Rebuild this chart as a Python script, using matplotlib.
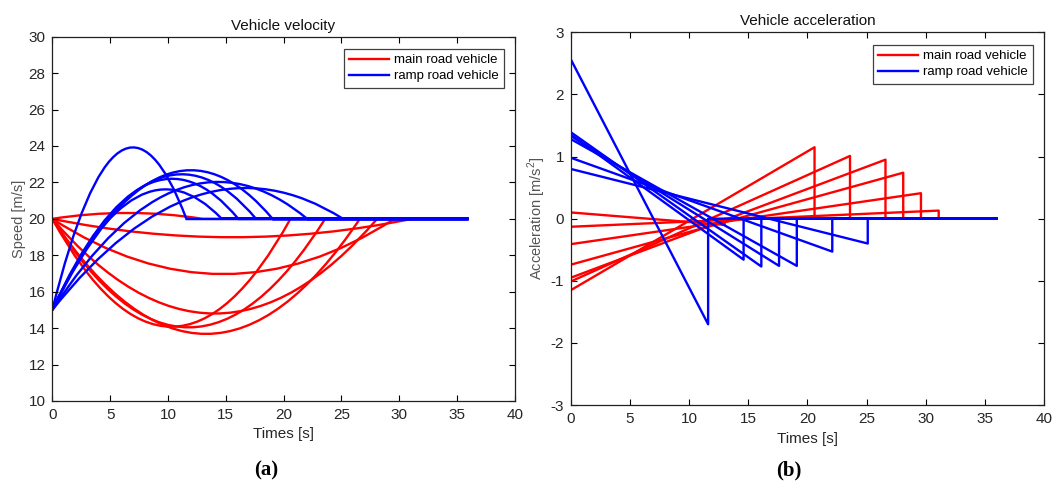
import matplotlib
matplotlib.use("Agg")
import matplotlib.pyplot as plt
from matplotlib.path import Path
from matplotlib.patches import PathPatch
from matplotlib.lines import Line2D

plt.rcParams['font.family'] = ['Liberation Sans', 'DejaVu Sans']
plt.rcParams['mathtext.fontset'] = 'custom'
plt.rcParams['mathtext.rm'] = 'Liberation Sans'
plt.rcParams['axes.unicode_minus'] = False

# acceleration profiles: start value, value at switch time, switch time
main_a0 = [0.10, -0.13, -0.41, -0.74, -0.95, -1.01, -1.15]
main_a1 = [-0.10, 0.13, 0.41, 0.74, 0.95, 1.01, 1.15]
main_T = [13.0, 31.1, 29.6, 28.1, 26.6, 23.6, 20.6]
main_v0 = 20.0

ramp_a0 = [2.56, 1.35, 1.39, 1.33, 1.28, 0.98, 0.80]
ramp_a1 = [-1.70, -0.66, -0.77, -0.76, -0.76, -0.53, -0.40]
ramp_T = [11.6, 14.6, 16.1, 17.6, 19.1, 22.1, 25.1]
ramp_v0 = 15.0

t_end = 36.0

red = '#ff0000'
blue = '#0000ff'
txt = '#262626'
lw = 1.7

fig = plt.figure(figsize=(10.55, 4.84), dpi=100)
ax1 = fig.add_axes([0.0496, 0.1715, 0.4383, 0.7527])
ax2 = fig.add_axes([0.5412, 0.1632, 0.4483, 0.7700])


def speed_path(v0, a0, a1, T):
    # linear acceleration -> parabolic speed, drawn as a quadratic bezier
    vT = v0 + (a0 + a1) * T / 2.0
    verts = [(0, v0), (T / 2.0, v0 + a0 * T / 2.0), (T, vT), (t_end, vT)]
    codes = [Path.MOVETO, Path.CURVE3, Path.CURVE3, Path.LINETO]
    return Path(verts, codes)


for a0, a1, T in zip(main_a0, main_a1, main_T):
    ax1.add_patch(PathPatch(speed_path(main_v0, a0, a1, T), fill=False,
                            edgecolor=red, lw=lw, capstyle='butt', joinstyle='miter'))
    ax2.plot([0, T, T, t_end], [a0, a1, 0, 0], color=red, lw=lw)
for a0, a1, T in zip(ramp_a0, ramp_a1, ramp_T):
    ax1.add_patch(PathPatch(speed_path(ramp_v0, a0, a1, T), fill=False,
                            edgecolor=blue, lw=lw, capstyle='butt', joinstyle='miter'))
    ax2.plot([0, T, T, t_end], [a0, a1, 0, 0], color=blue, lw=lw)

handles = [Line2D([], [], color=red, lw=lw), Line2D([], [], color=blue, lw=lw)]
names = ['main road vehicle', 'ramp road vehicle']

for ax in (ax1, ax2):
    ax.set_xlim(0, 40)
    ax.set_xticks(range(0, 41, 5))
    ax.tick_params(direction='in', top=True, right=True, length=4, width=0.8,
                   labelsize=11, labelcolor=txt, pad=5)
    for s in ax.spines.values():
        s.set_linewidth(0.9)
        s.set_color('#202020')
    ax.set_xlabel('Times [s]', fontsize=11, color=txt, labelpad=4)
    leg = ax.legend(handles, names, loc='upper right', bbox_to_anchor=(0.977, 0.967),
                    borderaxespad=0, fontsize=9.5, fancybox=False, framealpha=1,
                    edgecolor='#404040', handlelength=3.0, handletextpad=0.4,
                    labelspacing=0.3, borderpad=0.4)
    leg.get_frame().set_linewidth(0.9)

ax1.set_ylim(10, 30)
ax1.set_yticks(range(10, 31, 2))
ax1.set_ylabel('Speed [m/s]', fontsize=10.5, color='#555555', labelpad=2)
ax1.set_title('Vehicle velocity', fontsize=11, color='#111111', pad=5)

ax2.set_ylim(-3, 3)
ax2.set_yticks(range(-3, 4))
ax2.set_ylabel('Acceleration [m/s$^2$]', fontsize=10.5, color='#555555', labelpad=2)
ax2.set_title('Vehicle acceleration', fontsize=11, color='#111111', pad=5)

fig.text(0.252, 0.028, '(a)', fontsize=15, fontweight='bold', family='Liberation Serif',
         ha='center', va='center')
fig.text(0.748, 0.028, '(b)', fontsize=15, fontweight='bold', family='Liberation Serif',
         ha='center', va='center')

fig.savefig('out.png', dpi=100)
